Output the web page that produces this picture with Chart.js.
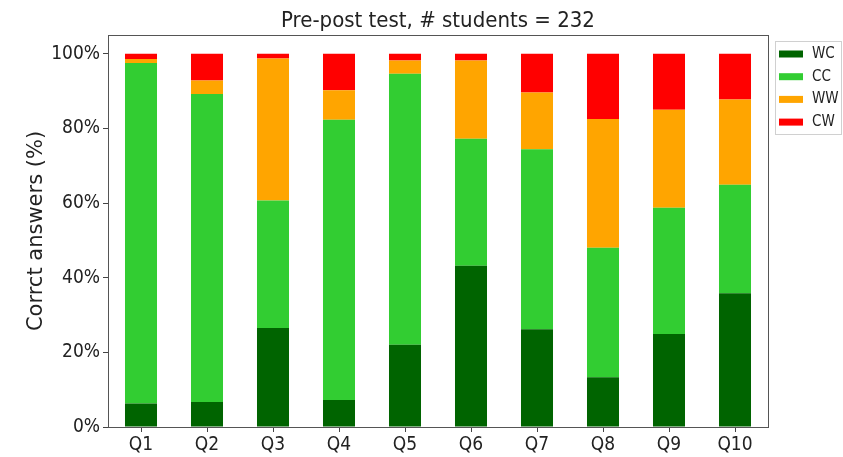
<!DOCTYPE html>
<html>
<head>
<meta charset="utf-8">
<script src="https://cdn.jsdelivr.net/npm/chart.js@4/dist/chart.umd.min.js"></script>
<style>
  html, body { margin: 0; padding: 0; background: #fff; }
  canvas { display: block; }
</style>
</head>
<body>
<canvas id="myChart" width="843" height="457"></canvas>
<script>
// datos (% por pregunta)
const categories = ['Q1', 'Q2', 'Q3', 'Q4', 'Q5', 'Q6', 'Q7', 'Q8', 'Q9', 'Q10'];
const wcValues = [6.3, 6.7, 26.5, 7.2, 22.0, 43.2, 26.2, 13.3, 24.9, 35.8];
const ccValues = [91.2, 82.5, 34.2, 75.1, 72.6, 34.0, 48.2, 34.7, 33.8, 29.1];
const wwValues = [1.1, 3.6, 38.0, 7.9, 3.6, 21.0, 15.2, 34.5, 26.3, 22.8];
const cwValues = [1.4, 7.2, 1.3, 9.8, 1.8, 1.8, 10.4, 17.5, 15.0, 12.3];
const yTicks = [0, 20, 40, 60, 80, 100];
const titleText = 'Pre-post test, # students = 232';

const condensed = "'DejaVu Sans Condensed', 'DejaVu Sans', sans-serif";

////////////////////////marco, titulo y leyenda////////////////////
const framePlugin = {
  id: 'framePlugin',
  beforeDraw(chart) {
    const ctx = chart.ctx;
    ctx.save();
    ctx.fillStyle = '#fff';
    ctx.fillRect(0, 0, chart.width, chart.height);
    ctx.restore();
  },
  afterDraw(chart) {
    const ctx = chart.ctx;
    const a = chart.chartArea;
    ctx.save();
    // marco del area
    ctx.strokeStyle = '#555';
    ctx.lineWidth = 1;
    ctx.strokeRect(Math.round(a.left) + 0.5, Math.round(a.top) + 0.5,
      Math.round(a.right - a.left), Math.round(a.bottom - a.top));

    // titulo
    ctx.fillStyle = '#222';
    ctx.font = '22px ' + condensed;
    ctx.textAlign = 'center';
    ctx.textBaseline = 'middle';
    ctx.fillText(titleText, (a.left + a.right) / 2, 21);

    // leyenda
    const lx = 775, ly = 41, lw = 66, lh = 93;
    ctx.strokeStyle = '#d0d0d0';
    ctx.strokeRect(lx + 0.5, ly + 0.5, lw, lh);
    ctx.font = '15px ' + condensed;
    ctx.textAlign = 'left';
    chart.data.datasets.forEach(function (ds, i) {
      const cy = 54 + i * 22.7;
      ctx.fillStyle = ds.backgroundColor;
      ctx.fillRect(779, cy - 3.5, 24, 7);
      ctx.fillStyle = '#222';
      ctx.fillText(ds.label, 812, cy);
    });
    ctx.restore();
  }
};

document.addEventListener('DOMContentLoaded', function () {
  const canvas = document.getElementById('myChart').getContext('2d');
  const chart = new Chart(canvas, {
    type: 'bar',
    data: {
      labels: categories,
      datasets: [
        { label: 'WC', data: wcValues, backgroundColor: '#006400' },
        { label: 'CC', data: ccValues, backgroundColor: '#32cd32' },
        { label: 'WW', data: wwValues, backgroundColor: '#ffa500' },
        { label: 'CW', data: cwValues, backgroundColor: '#ff0000' }
      ]
    },
    options: {
      responsive: false,
      maintainAspectRatio: false,
      animation: false,
      datasets: {
        bar: { categoryPercentage: 1, barPercentage: 0.485, borderWidth: 0 }
      },
      layout: { padding: { left: 10, top: 35, right: 75, bottom: 0 } },
      plugins: {
        legend: { display: false },
        title: { display: false },
        tooltip: { enabled: false }
      },
      scales: {
        x: {
          stacked: true,
          grid: { display: true, offset: false, drawOnChartArea: false, drawTicks: true, tickLength: 5, color: '#444' },
          border: { display: true, color: '#555' },
          ticks: { color: '#222', padding: 2, font: { size: 19, family: condensed } },
          afterFit: function (scale) { scale.height = 30; }
        },
        y: {
          stacked: true,
          min: 0,
          max: 105,
          afterBuildTicks: function (scale) {
            scale.ticks = yTicks.map(function (v) { return { value: v }; });
          },
          grid: { display: true, drawOnChartArea: false, drawTicks: true, tickLength: 5, color: '#444' },
          border: { display: true, color: '#555' },
          ticks: {
            color: '#222',
            padding: 3,
            font: { size: 19, family: condensed },
            callback: function (v) { return v + '%'; }
          },
          title: {
            display: true,
            text: 'Corrct answers (%)',
            color: '#222',
            padding: { top: 14, bottom: 0 },
            font: { size: 21, family: "'DejaVu Sans', sans-serif" }
          },
          afterFit: function (scale) { scale.width = 98; }
        }
      }
    },
    plugins: [framePlugin]
  });
});
</script>
</body>
</html>
